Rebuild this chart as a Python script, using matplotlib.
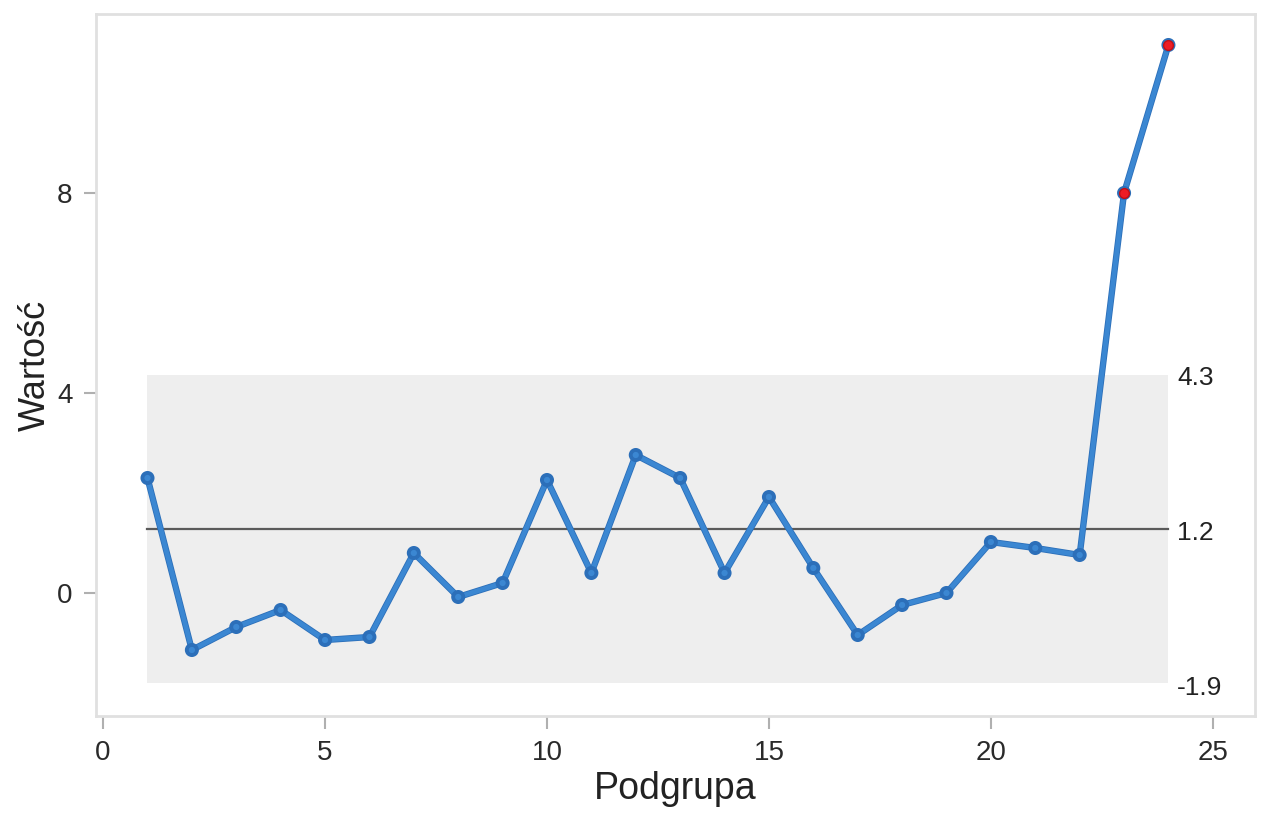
import matplotlib
matplotlib.use("Agg")
import matplotlib.pyplot as plt
import matplotlib.patheffects as pe
import numpy as np

plt.rcParams['font.family'] = ['Liberation Sans', 'DejaVu Sans']

# Data
subgroups = list(range(1, 25))
values = [2.30, -1.14, -0.68, -0.34, -0.94, -0.88, 0.80, -0.08, 0.20, 2.26,
          0.40, 2.76, 2.30, 0.40, 1.92, 0.50, -0.84, -0.24, 0.00, 1.02,
          0.90, 0.76, 8.00, 10.96]
center_line = 1.28
upper_limit = 4.36
lower_limit = -1.80
limit_labels = ["4.3", "1.2", "-1.9"]
x_ticks = [0, 5, 10, 15, 20, 25]
y_ticks = [0, 4, 8]

W, H = 1265, 832
fig = plt.figure(figsize=(W / 100, H / 100), dpi=100)
ax = fig.add_axes([96 / W, (H - 716) / H, (1255 - 96) / W, (716 - 14) / H])

x = np.array(subgroups)
y = np.array(values)
x0, x1 = x.min(), x.max()

# control band
ax.fill_between([x0, x1], lower_limit, upper_limit, color='#eeeeee', linewidth=0, zorder=1)
ax.plot([x0, x1], [center_line, center_line], color='#5a5a5a', linewidth=1.6, zorder=2)

# series
ax.plot(x, y, color='#3b87d2', linewidth=3.4, marker='o', markersize=5.5,
        markerfacecolor='#3b87d2', markeredgecolor='#2c6fb9', markeredgewidth=1.0,
        zorder=3, solid_joinstyle='round',
        path_effects=[pe.Stroke(linewidth=4.6, foreground='#2c6fb9'), pe.Normal()])

out = (y > upper_limit) | (y < lower_limit)
ax.plot(x[out], y[out], linestyle='none', marker='o', markersize=7,
        markerfacecolor='#ee1c24', markeredgecolor='#c01018', markeredgewidth=1.0, zorder=4)

# limit labels
for lab in limit_labels:
    ax.text(x1 + 0.2, float(lab), lab, fontsize=19, color='#222222',
            va='center', ha='left')

ax.set_xlim(-0.16, 25.95)
ax.set_ylim(-2.46, 11.58)
ax.set_xticks(x_ticks)
ax.set_yticks(y_ticks)
ax.tick_params(axis='both', colors='#b0b0b0', length=9, width=1.5, labelsize=20,
               labelcolor='#2a2a2a', pad=8)
for s in ax.spines.values():
    s.set_color('#e0e0e0')
    s.set_linewidth(2)

ax.set_xlabel('Podgrupa', fontsize=27, color='#222222', labelpad=4)
ax.set_ylabel('Wartość', fontsize=26, color='#222222', labelpad=3)

fig.savefig('out.png', dpi=100)
